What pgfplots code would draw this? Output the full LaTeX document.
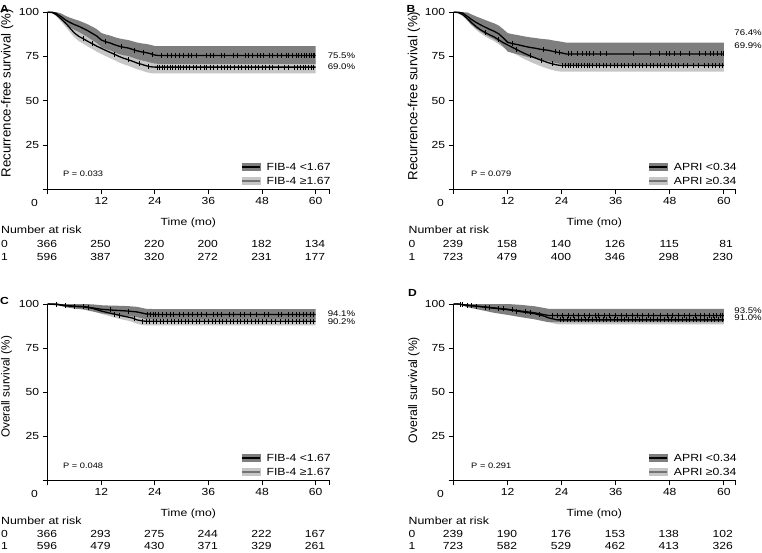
\documentclass[border=0pt]{standalone}
\usepackage{fontspec}
\setmainfont{Liberation Sans}[FakeStretch=1.18]
\newfontfamily\plainfont{Liberation Sans}
\usepackage{pgfplots}
\usepackage{pgfplotstable}
\pgfplotsset{compat=1.18}
\usepgfplotslibrary{fillbetween}
\definecolor{darkband}{RGB}{126,126,126}
\definecolor{lightband}{RGB}{198,198,198}
\newcommand\ft[1]{\fontsize{#1}{#1}\selectfont}

% ---------- Panel A ----------
\pgfplotstableread{
t s lo hi
0 100 100 100
1 100 100 100
2 99.2 98.2 100
3 97.5 95.7 99.3
4 95.6 93.3 97.9
5 94.2 91.5 96.9
6 93.0 90.0 96.0
7 92.0 88.8 95.2
8 90.8 87.4 94.2
9 89.5 85.9 93.1
10 88.0 84.2 91.8
11 86.5 82.6 90.4
12 84.3 80.3 88.3
13 83.3 79.2 87.4
14 82.6 78.4 86.8
15 81.6 77.3 85.9
16 80.8 76.4 85.2
17 80.2 75.7 84.7
18 79.8 75.3 84.3
19 79.0 74.4 83.6
20 78.2 73.5 82.9
21 77.6 72.8 82.4
22 77.2 72.3 82.1
23 76.6 71.6 81.6
24 75.8 71.0 80.9
25 75.5 70.8 80.8
60 75.5 70.8 80.8
}\aU
\pgfplotstableread{
t s lo hi
0 100 100 100
1 99.8 99.5 100
2 98.5 97.5 99.5
3 96.2 94.6 97.8
4 93.8 91.8 95.8
5 91.0 88.7 93.3
6 88.2 85.7 90.7
7 86.3 83.6 89.0
8 85.0 82.2 87.8
9 83.5 80.6 86.4
10 82.2 79.2 85.2
11 80.8 77.7 83.9
12 79.6 76.4 82.8
13 78.4 75.2 81.6
14 77.3 74.0 80.6
15 76.2 72.9 79.5
16 75.0 71.6 78.4
17 74.0 70.6 77.4
18 73.2 69.8 76.6
19 72.3 68.8 75.8
20 71.3 67.8 74.8
21 70.6 67.1 74.1
22 69.8 66.2 73.4
23 69.2 65.6 72.8
24 69.0 65.4 72.6
60 69.0 65.4 72.6
}\aL
% ---------- Panel B ----------
\pgfplotstableread{
t s lo hi
0 100 100 100
1 100 100 100
2 99.5 98.5 100
3 97.7 95.5 99.9
4 95.8 92.9 98.7
5 94.2 90.8 97.6
6 92.8 89.0 96.6
7 91.5 87.4 95.6
8 90.3 86.0 94.6
9 89.2 84.7 93.7
10 87.8 83.1 92.5
11 85.5 80.6 90.4
12 83.0 77.8 88.2
13 82.3 77.0 87.6
14 81.8 76.4 87.2
15 81.2 75.7 86.7
16 80.6 75.0 86.2
17 80.1 74.4 85.8
18 79.7 73.9 85.5
19 79.2 73.3 85.1
20 78.8 72.8 84.8
21 78.5 72.4 84.6
22 77.9 71.7 84.1
23 77.4 71.1 83.7
24 77.0 70.7 83.3
25 76.4 70.0 82.8
60 76.4 70.0 82.8
}\bU
\pgfplotstableread{
t s lo hi
0 100 100 100
1 99.8 99.5 100
2 98.6 97.8 99.4
3 96.5 95.2 97.8
4 94.0 92.4 95.6
5 91.8 90.0 93.6
6 90.0 88.0 92.0
7 88.5 86.3 90.7
8 87.2 84.9 89.5
9 86.0 83.6 88.4
10 84.4 81.9 86.9
11 82.8 80.2 85.4
12 81.5 78.7 84.3
13 80.2 77.3 83.1
14 78.9 75.9 81.9
15 77.6 74.5 80.7
16 76.4 73.2 79.6
17 75.3 72.0 78.6
18 74.3 70.9 77.7
19 73.3 69.9 76.7
20 72.4 68.9 75.9
21 71.5 68.0 75.0
22 70.8 67.3 74.3
23 70.2 66.7 73.7
24 69.9 66.4 73.4
60 69.9 66.4 73.4
}\bL
% ---------- Panel C ----------
\pgfplotstableread{
t s lo hi
0 100 100 100
2 100 100 100
3 99.5 98.9 100
4 99.2 98.2 100
6 98.8 97.4 100
8 98.6 96.9 100
10 97.8 95.8 99.8
12 97.0 94.7 99.3
14 96.6 94.1 99.1
16 96.3 93.6 99.0
18 96.0 93.2 98.8
20 95.5 92.6 98.4
22 94.4 91.4 97.3
24 94.1 91.1 97.1
60 94.1 91.1 97.1
}\cU
\pgfplotstableread{
t s lo hi
0 100 100 100
2 99.7 99.4 100
4 99.0 98.3 99.7
6 98.6 97.6 99.6
8 98.4 97.2 99.6
10 97.6 96.2 99.0
12 96.0 94.4 97.6
14 94.8 93.0 96.6
16 93.6 91.6 95.6
18 92.6 90.5 94.7
19 92.0 89.8 94.2
20 91.0 88.8 93.2
21 90.5 88.2 92.8
22 90.2 87.9 92.5
60 90.2 87.9 92.5
}\cL
% ---------- Panel D ----------
\pgfplotstableread{
t s lo hi
0 100 100 100
1 100 100 100
3 99.2 98.2 100
6 98.6 96.6 100
9 97.8 95.0 100
12 97.0 93.8 100
15 96.0 92.5 99.5
18 95.0 91.3 98.7
20 94.0 90.2 97.8
21 93.5 89.7 97.3
60 93.5 89.7 97.3
}\dU
\pgfplotstableread{
t s lo hi
0 100 100 100
1 100 100 100
3 99.3 98.7 99.9
6 98.5 97.4 99.6
9 97.6 96.0 99.2
12 96.8 94.8 98.8
15 95.6 93.4 97.8
18 94.5 92.2 96.8
20 93.2 90.8 95.6
21 92.2 89.8 94.6
22 91.6 89.1 94.1
23 91.0 88.5 93.5
60 91.0 88.5 93.5
}\dL

\newcommand\band[3]{%
  \addplot[name path=#3hi, draw=none, forget plot] table[x=t,y=hi]{#1};
  \addplot[name path=#3lo, draw=none, forget plot] table[x=t,y=lo]{#1};
  \addplot[fill=#2, draw=none, forget plot] fill between[of=#3hi and #3lo];
}
\newcommand\kmline[1]{\addplot[black, line width=1.3bp, forget plot] table[x=t,y=s]{#1};}

\pgfplotsset{
  km/.style={
    scale only axis, width=281.3bp, height=177.1bp,
    xmin=0, xmax=63, ymin=0, ymax=100,
    axis lines=left, axis line style={-, line width=0.8bp, black},
    xtick={0,12,24,36,48,60,63}, xticklabels={,12,24,36,48,60,},
    ytick={0,25,50,75,100}, yticklabels={,25,50,75,100},
    tick align=outside, major tick length=5bp,
    tick style={black, line width=0.8bp},
    tick label style={font=\ft{10.3}, inner sep=0pt},
    xticklabel style={anchor=north, yshift=-2.5bp},
    yticklabel style={anchor=east, xshift=-3.5bp},
    xlabel={Time (mo)},
    xlabel style={at={(axis description cs:0.5,0)}, anchor=center, yshift=-34bp, font=\ft{10.4}},
    ylabel style={anchor=center, font=\plainfont\ft{13.3}},
    clip=false,
    legend cell align=left,
    legend style={at={(1,0)}, anchor=south east, xshift=2bp, yshift=3bp,
      draw=none, fill=none, inner sep=0pt, font=\ft{10.4}, row sep=4bp,
      nodes={inner sep=0pt, text height=8bp, text depth=2bp},
      /tikz/every odd column/.append style={column sep=6bp}},
  },
  kmright/.style={xmax=62.5, xtick={0,12,24,36,48,60,62.5}},
  cens/.style={only marks, mark=|, mark size=2.5bp, black, mark options={line width=0.75bp}, forget plot},
  legdark/.style={legend image code/.code={\fill[darkband] (0bp,-3.5bp) rectangle (18bp,3.5bp); \draw[black,line width=1.3bp] (0bp,0bp) -- (18bp,0bp);}},
  leglight/.style={legend image code/.code={\fill[lightband] (0bp,-3.5bp) rectangle (18bp,3.5bp); \draw[black!55,line width=1.3bp] (0bp,0bp) -- (18bp,0bp);}},
}

\begin{document}
\begin{tikzpicture}
% ================= A =================
\begin{axis}[km, at={(47.7bp,-189.3bp)}, anchor=south west,
  ylabel={Recurrence-free survival (\%)},
  ylabel style={at={(axis description cs:-0.144,0.543)}}]
\addlegendimage{legdark}\addlegendentry{FIB-4 <1.67}
\addlegendimage{leglight}\addlegendentry{FIB-4 ≥1.67}
\band{\aL}{lightband}{aL}
\band{\aU}{darkband}{aU}
\kmline{\aU}
\kmline{\aL}
\addplot[cens] coordinates {(13,83.3)(16.5,80.5)(19.5,78.6)(21.5,77.4)(23.5,76.2)
 (25.5,75.5)(26.8,75.5)(27.8,75.5)(28.6,75.5)(29.6,75.5)(30.4,75.5)(31.4,75.5)(32.2,75.5)(33.4,75.5)(35.6,75.5)(36.4,75.5)(37.2,75.5)(38.8,75.5)(39.6,75.5)(41.6,75.5)(42.4,75.5)(44.2,75.5)(45.0,75.5)(45.8,75.5)(47.0,75.5)(47.6,75.5)(48.4,75.5)(49.6,75.5)(50.4,75.5)(51.4,75.5)(52.4,75.5)(53.4,75.5)(54.0,75.5)(54.8,75.5)(55.6,75.5)(56.2,75.5)(56.8,75.5)(57.4,75.5)(58.0,75.5)(58.6,75.5)(59.0,75.5)(59.4,75.5)(59.8,75.5)};
\addplot[cens] coordinates {(8,85.0)(10,82.2)(15,76.2)(18,73.2)(20.5,71.0)(22.5,69.5)
 (24.5,69)(25,69)(25.6,69)(26.2,69)(26.8,69)(27.4,69)(28.0,69)(28.6,69)(29.2,69)(29.8,69)(30.4,69)(31.0,69)(31.8,69)(32.6,69)(33.4,69)(34.2,69)(35.0,69)(35.6,69)(36.4,69)(37.2,69)(38.0,69)(38.8,69)(39.6,69)(40.2,69)(41.0,69)(41.8,69)(42.6,69)(43.4,69)(44.2,69)(45.0,69)(45.6,69)(46.4,69)(47.2,69)(48.0,69)(48.8,69)(49.6,69)(50.4,69)(51.6,69)(53.0,69)(53.8,69)(55.2,69)(56.0,69)(56.6,69)(57.2,69)(57.8,69)(58.4,69)(59.0,69)(59.6,69)};
\node[anchor=west, font=\ft{8.2}, inner sep=0pt] at (axis cs:60,75.5) [xshift=12bp] {75.5\%};
\node[anchor=west, font=\ft{8.2}, inner sep=0pt] at (axis cs:60,69.0) [xshift=12bp] {69.0\%};
\node[anchor=west, font=\ft{7.9}, inner sep=0pt] at (axis cs:3.4,8.9) {P = 0.033};
\node[font=\ft{10.3}, inner sep=0pt] at (axis cs:0,0) [xshift=-13.2bp, yshift=-13.2bp] {0};
\end{axis}

% ================= B =================
\begin{axis}[km, kmright, at={(453.7bp,-189.3bp)}, anchor=south west,
  ylabel={Recurrence-free survival (\%)},
  ylabel style={at={(axis description cs:-0.141,0.527)}}]
\addlegendimage{legdark}\addlegendentry{APRI <0.34}
\addlegendimage{leglight}\addlegendentry{APRI ≥0.34}
\band{\bL}{lightband}{bL}
\band{\bU}{darkband}{bU}
\kmline{\bU}
\kmline{\bL}
\addplot[cens] coordinates {(13,82.3)(20,78.8)(22.5,77.6)(23.5,77.2)
 (25.4,76.4)(26.2,76.4)(27.4,76.4)(28.6,76.4)(29.4,76.4)(30.2,76.4)(31.0,76.4)(32.6,76.4)(34.0,76.4)(40.0,76.4)(43.6,76.4)(45.6,76.4)(47.2,76.4)(48.0,76.4)(49.0,76.4)(50.4,76.4)(52.4,76.4)(54.6,76.4)(56.0,76.4)(57.0,76.4)(57.8,76.4)(58.6,76.4)(59.4,76.4)(60,76.4)};
\addplot[cens] coordinates {(7,88.5)(10,84.4)(14,78.9)(17,75.3)(19.5,72.8)(22,70.8)
 (24.2,69.9)(24.8,69.9)(25.4,69.9)(26.0,69.9)(26.6,69.9)(27.2,69.9)(27.8,69.9)(28.4,69.9)(29.0,69.9)(29.6,69.9)(30.2,69.9)(30.8,69.9)(31.6,69.9)(32.4,69.9)(33.2,69.9)(34.0,69.9)(34.8,69.9)(35.6,69.9)(36.4,69.9)(37.2,69.9)(38.0,69.9)(38.8,69.9)(39.6,69.9)(40.4,69.9)(41.2,69.9)(42.0,69.9)(42.8,69.9)(43.6,69.9)(44.4,69.9)(45.2,69.9)(46.0,69.9)(46.8,69.9)(47.6,69.9)(48.4,69.9)(49.2,69.9)(50.0,69.9)(51.0,69.9)(52.0,69.9)(53.2,69.9)(54.4,69.9)(55.6,69.9)(56.6,69.9)(57.4,69.9)(58.2,69.9)(59.0,69.9)(59.8,69.9)};
\node[anchor=west, font=\ft{8.2}, inner sep=0pt] at (axis cs:60,88.4) [xshift=10.5bp] {76.4\%};
\node[anchor=west, font=\ft{8.2}, inner sep=0pt] at (axis cs:60,80.9) [xshift=10.5bp] {69.9\%};
\node[anchor=west, font=\ft{7.9}, inner sep=0pt] at (axis cs:3.85,9) {P = 0.079};
\node[font=\ft{10.3}, inner sep=0pt] at (axis cs:0,0) [xshift=-13.2bp, yshift=-13.2bp] {0};
\end{axis}

% ================= C =================
\begin{axis}[km, height=176.3bp, at={(47.7bp,-480.3bp)}, anchor=south west,
  ylabel={Overall survival (\%)},
  ylabel style={at={(axis description cs:-0.1465,0.53)}, font=\plainfont\ft{11.8}}]
\addlegendimage{legdark}\addlegendentry{FIB-4 <1.67}
\addlegendimage{leglight}\addlegendentry{FIB-4 ≥1.67}
\band{\cL}{lightband}{cL}
\band{\cU}{darkband}{cU}
\kmline{\cU}
\kmline{\cL}
\addplot[cens] coordinates {(2,100)(4,99.2)(6,98.8)(8,98.6)(14,96.6)(18,96.0)
 (22.4,94.1)(23,94.1)(23.6,94.1)(24.2,94.1)(24.8,94.1)(25.6,94.1)(26.6,94.1)(27.4,94.1)(28.2,94.1)(29.4,94.1)(30.4,94.1)(31.4,94.1)(32.4,94.1)(33.6,94.1)(34.4,94.1)(35.6,94.1)(37.0,94.1)(38.0,94.1)(39.0,94.1)(40.6,94.1)(41.6,94.1)(43.2,94.1)(44.0,94.1)(45.4,94.1)(46.8,94.1)(48.6,94.1)(49.4,94.1)(51.6,94.1)(52.4,94.1)(54.0,94.1)(54.8,94.1)(55.6,94.1)(56.4,94.1)(57.2,94.1)(58.0,94.1)(58.8,94.1)(59.6,94.1)};
\addplot[cens] coordinates {(9,98.0)(15,94.2)(16,93.6)(19.5,91.5)
 (21.2,90.2)(22,90.2)(22.8,90.2)(23.6,90.2)(24.4,90.2)(25.2,90.2)(26,90.2)(26.8,90.2)(27.6,90.2)(28.4,90.2)(29.2,90.2)(30,90.2)(30.8,90.2)(31.6,90.2)(32.4,90.2)(33.2,90.2)(34,90.2)(35.2,90.2)(36,90.2)(36.8,90.2)(37.6,90.2)(38.4,90.2)(39.2,90.2)(40,90.2)(40.8,90.2)(41.6,90.2)(42.4,90.2)(43.2,90.2)(44,90.2)(44.8,90.2)(45.6,90.2)(46.4,90.2)(47.2,90.2)(48,90.2)(49,90.2)(50,90.2)(51,90.2)(52,90.2)(53.2,90.2)(54,90.2)(54.8,90.2)(55.6,90.2)(56.4,90.2)(57.2,90.2)(58,90.2)(58.8,90.2)(59.6,90.2)};
\node[anchor=west, font=\ft{8.2}, inner sep=0pt] at (axis cs:60,94.6) [xshift=12bp] {94.1\%};
\node[anchor=west, font=\ft{8.2}, inner sep=0pt] at (axis cs:60,90.1) [xshift=12bp] {90.2\%};
\node[anchor=west, font=\ft{7.9}, inner sep=0pt] at (axis cs:3.4,8.5) {P = 0.048};
\node[font=\ft{10.3}, inner sep=0pt] at (axis cs:0,0) [xshift=-13.2bp, yshift=-13.2bp] {0};
\end{axis}

% ================= D =================
\begin{axis}[km, kmright, height=176.3bp, at={(453.7bp,-480.3bp)}, anchor=south west,
  ylabel={Overall survival (\%)},
  ylabel style={at={(axis description cs:-0.141,0.512)}, font=\plainfont\ft{12.3}}]
\addlegendimage{legdark}\addlegendentry{APRI <0.34}
\addlegendimage{leglight}\addlegendentry{APRI ≥0.34}
\band{\dL}{lightband}{dL}
\band{\dU}{darkband}{dU}
\kmline{\dU}
\kmline{\dL}
\addplot[cens] coordinates {(1.5,100)(3,99.2)(5,98.8)(8,98.0)(11,97.2)(13,96.8)(16,95.6)
 (22,93.5)(23,93.5)(24.2,93.5)(25.4,93.5)(26.6,93.5)(27.8,93.5)(29,93.5)(30.2,93.5)(31.4,93.5)(32.2,93.5)(33.4,93.5)(34.6,93.5)(36,93.5)(37.2,93.5)(38.4,93.5)(39.6,93.5)(40.8,93.5)(42,93.5)(43.2,93.5)(44.4,93.5)(46,93.5)(47.4,93.5)(48.6,93.5)(50,93.5)(51.2,93.5)(52.4,93.5)(53.6,93.5)(54.8,93.5)(55.8,93.5)(56.8,93.5)(57.6,93.5)(58.4,93.5)(59.2,93.5)(59.8,93.5)};
\addplot[cens] coordinates {(2,100)(4,99.0)(7,98.2)(10,97.4)(14,96.0)(17,94.9)(19,93.9)
 (23.6,91)(24.4,91)(25.2,91)(26,91)(26.8,91)(27.6,91)(28.4,91)(29.2,91)(30,91)(30.8,91)(31.6,91)(32.4,91)(33.2,91)(34,91)(34.8,91)(35.6,91)(36.4,91)(37.2,91)(38,91)(38.8,91)(39.6,91)(40.4,91)(41.2,91)(42,91)(42.8,91)(43.6,91)(44.4,91)(45.2,91)(46,91)(46.8,91)(47.6,91)(48.4,91)(49.2,91)(50,91)(50.8,91)(51.6,91)(52.4,91)(53.2,91)(54,91)(54.8,91)(55.6,91)(56.4,91)(57.2,91)(58,91)(58.8,91)(59.6,91)};
\node[anchor=west, font=\ft{8.2}, inner sep=0pt] at (axis cs:60,96.2) [xshift=10.5bp] {93.5\%};
\node[anchor=west, font=\ft{8.2}, inner sep=0pt] at (axis cs:60,92.0) [xshift=10.5bp] {91.0\%};
\node[anchor=west, font=\ft{7.9}, inner sep=0pt] at (axis cs:3.85,8.5) {P = 0.291};
\node[font=\ft{10.3}, inner sep=0pt] at (axis cs:0,0) [xshift=-13.2bp, yshift=-13.2bp] {0};
\end{axis}

% ---------- panel letters ----------
\node[font=\bfseries\ft{10.3}, inner sep=0pt] at (4.5bp,-9bp) {A};
\node[font=\bfseries\ft{10.3}, inner sep=0pt] at (411bp,-9bp) {B};
\node[font=\bfseries\ft{10.3}, inner sep=0pt] at (4.5bp,-300.5bp) {C};
\node[font=\bfseries\ft{10.3}, inner sep=0pt] at (412.5bp,-292.5bp) {D};

% ---------- Number at risk ----------
\begin{scope}[every node/.style={inner sep=0pt, font=\ft{10.3}}]
\node[anchor=base west, font=\ft{10.5}] at (1bp,-233bp) {Number at risk};
\node[anchor=base west] at (1bp,-247bp) {0};
\node[anchor=base west] at (1bp,-260.4bp) {1};
\foreach \x/\a/\b in {57.3/366/596, 110.9/250/387, 164.5/220/320, 218.1/200/272, 271.7/182/231, 325.3/134/177}
  {\node[anchor=base east] at (\x bp,-247bp) {\a}; \node[anchor=base east] at (\x bp,-260.4bp) {\b};}
\node[anchor=base west, font=\ft{10.5}] at (408.5bp,-233bp) {Number at risk};
\node[anchor=base west] at (408.5bp,-247bp) {0};
\node[anchor=base west] at (408.5bp,-260.4bp) {1};
\foreach \x/\a/\b in {463.3/239/723, 517.3/158/479, 571.2/140/400, 625.2/126/346, 679.1/115/298, 733.1/81/230}
  {\node[anchor=base east] at (\x bp,-247bp) {\a}; \node[anchor=base east] at (\x bp,-260.4bp) {\b};}
\node[anchor=base west, font=\ft{10.5}] at (1bp,-524.5bp) {Number at risk};
\node[anchor=base west] at (1bp,-537.1bp) {0};
\node[anchor=base west] at (1bp,-549.3bp) {1};
\foreach \x/\a/\b in {57.3/366/596, 110.9/293/479, 164.5/275/430, 218.1/244/371, 271.7/222/329, 325.3/167/261}
  {\node[anchor=base east] at (\x bp,-537.1bp) {\a}; \node[anchor=base east] at (\x bp,-549.3bp) {\b};}
\node[anchor=base west, font=\ft{10.5}] at (408.5bp,-524.5bp) {Number at risk};
\node[anchor=base west] at (408.5bp,-537.1bp) {0};
\node[anchor=base west] at (408.5bp,-549.3bp) {1};
\foreach \x/\a/\b in {463.3/239/723, 517.3/190/582, 571.2/176/529, 625.2/153/462, 679.1/138/413, 733.1/102/326}
  {\node[anchor=base east] at (\x bp,-537.1bp) {\a}; \node[anchor=base east] at (\x bp,-549.3bp) {\b};}
\end{scope}

\pgfresetboundingbox
\path[use as bounding box] (0bp,0bp) rectangle (762bp,-553bp);
\end{tikzpicture}
\end{document}
